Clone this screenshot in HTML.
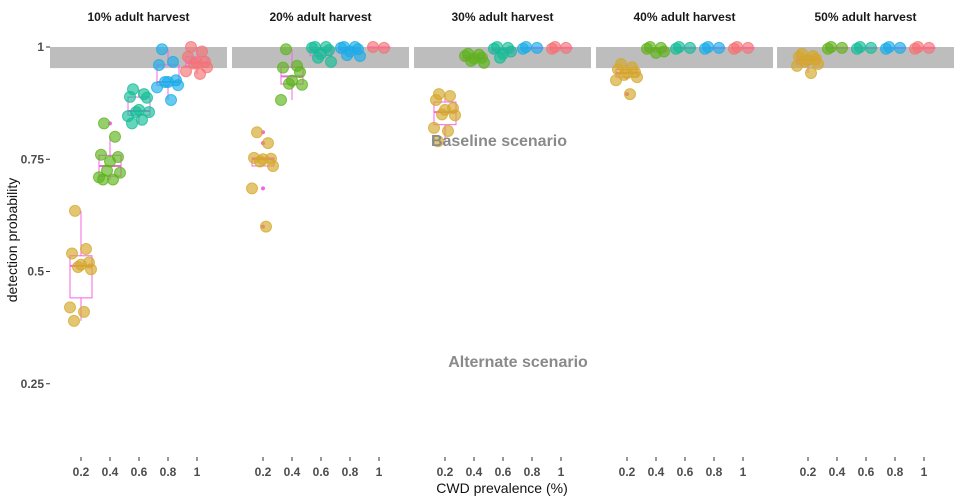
<!DOCTYPE html>
<html><head><meta charset="utf-8">
<style>
html,body{margin:0;padding:0;background:#fff;}
svg{display:block;font-family:"Liberation Sans",sans-serif;}
</style></head>
<body>
<svg id="chart" width="960" height="500"></svg>
<script>
const panels = ["10% adult harvest","20% adult harvest","30% adult harvest","40% adult harvest","50% adult harvest"];
const prevalences = [0.2,0.4,0.6,0.8,1];
const xTickLabels = ["0.2","0.4","0.6","0.8","1"];
const yTicks = [0.25,0.5,0.75,1];
const yTickLabels = ["0.25","0.5","0.75","1"];
const p1 = [
 [0.635,0.55,0.54,0.52,0.515,0.51,0.505,0.42,0.41,0.39],
 [0.83,0.80,0.76,0.755,0.745,0.725,0.72,0.71,0.705,0.705],
 [0.906,0.895,0.889,0.887,0.86,0.855,0.855,0.846,0.838,0.83],
 [0.995,0.967,0.96,0.926,0.922,0.922,0.915,0.91,0.882],
 [1.0,0.99,0.978,0.967,0.965,0.963,0.955,0.946,0.94]
];
const p2 = [
 [0.81,0.786,0.753,0.751,0.75,0.745,0.735,0.685,0.6],
 [0.995,0.958,0.954,0.944,0.925,0.918,0.916,0.882],
 [1,1,0.998,0.993,0.985,0.976,0.967],
 [1,1,0.998,0.995,0.99,0.982,0.98],
 [1,0.998]
];
const p3 = [
 [0.895,0.891,0.882,0.864,0.86,0.85,0.848,0.82,0.813,0.79],
 [0.985,0.983,0.98,0.976,0.974,0.969,0.965],
 [1,0.998,0.996,0.99,0.985,0.976],
 [1,0.998,0.996],
 [1,0.998,0.996]
];
const p4 = [
 [0.962,0.955,0.95,0.944,0.942,0.938,0.933,0.926,0.895],
 [1,0.998,0.996,0.99,0.987],
 [1,0.998,0.996],
 [1,0.998,0.996],
 [1,0.998,0.996]
];
const p5 = [
 [0.985,0.98,0.978,0.973,0.971,0.967,0.962,0.958,0.942],
 [1,0.998,0.996],
 [1,0.998,0.996],
 [1,0.998,0.996],
 [1,0.998,0.996]
];
const panelData = [p1,p2,p3,p4,p5];
const colors = ["#D4A82A","#5DB41C","#12BE96","#17AEE8","#F47373"];

const NS="http://www.w3.org/2000/svg";
const svg=document.getElementById('chart');
function el(t,a,parent){const e=document.createElementNS(NS,t);for(const k in a)e.setAttribute(k,a[k]);(parent||svg).appendChild(e);return e;}
const panelLefts=[50,232,414,596,777];
const panelW=177;
function y(v){return 47+(1-v)*449;}
function x(pi,p){return panelLefts[pi]+31+(p-0.2)*145;}
const jit=[-6,5,-9,8,0,-3,10,-11,3,-7,6];

yTicks.forEach((t,i)=>{
  const tk=el('line',{x1:46,x2:50,y1:y(t),y2:y(t),stroke:'#333','stroke-width':1});
  
  
  const lb=el('text',{x:44,y:y(t)+4,'text-anchor':'end','font-size':12,'font-weight':'bold',fill:'#4d4d4d'});
  lb.textContent=yTickLabels[i];
  
  
});
const yt=el('text',{x:0,y:0,transform:'translate(17,240) rotate(-90)','text-anchor':'middle','font-size':14,fill:'#111'});
yt.textContent='detection probability';


const xt=el('text',{x:502,y:493,'text-anchor':'middle','font-size':14,fill:'#111'});
xt.textContent='CWD prevalence (%)';



function q(arr,p){const s=[...arr].sort((a,b)=>a-b);const h=(s.length-1)*p;const lo=Math.floor(h),hi=Math.ceil(h);return s[lo]+(s[hi]-s[lo])*(h-lo);}

panels.forEach((name,pi)=>{
  const g=el('g',{});
  
  
  const st=el('text',{x:panelLefts[pi]+panelW/2,y:21,'text-anchor':'middle','font-size':12,'font-weight':'bold',fill:'#1a1a1a'},g);
  st.textContent=name;
  
  
  const band=el('rect',{x:panelLefts[pi],y:y(1),width:panelW,height:y(0.953)-y(1),fill:'#bdbdbd'},g);
  
  
  prevalences.forEach((p,k)=>{
    const cx=x(pi,p);
    const tk=el('line',{x1:cx,x2:cx,y1:457,y2:461,stroke:'#333'},g);
    
    
    const lb=el('text',{x:cx,y:476,'text-anchor':'middle','font-size':12,'font-weight':'bold',fill:'#4d4d4d'},g);
    lb.textContent=xTickLabels[k];
    
    
  });
  panelData[pi].forEach((vals,k)=>{
    const cx=x(pi,prevalences[k]);
    const q1=q(vals,0.25),q3=q(vals,0.75),md=q(vals,0.5),iqr=q3-q1;
    const inl=vals.filter(v=>v>=q1-1.5*iqr&&v<=q3+1.5*iqr);
    const lo=Math.min(...inl),hi=Math.max(...inl);
    const bx=el('g',{},g);
    
    
    el('line',{x1:cx,x2:cx,y1:y(hi),y2:y(q3),stroke:'#F564E3'},bx);
    el('line',{x1:cx,x2:cx,y1:y(q1),y2:y(lo),stroke:'#F564E3'},bx);
    el('rect',{x:cx-11,y:y(q3),width:22,height:Math.max(0.5,y(q1)-y(q3)),fill:'none',stroke:'#F564E3'},bx);
    el('line',{x1:cx-11,x2:cx+11,y1:y(md),y2:y(md),stroke:'#F564E3','stroke-width':2},bx);
    vals.forEach(v=>{if(v<lo||v>hi){const o=el('circle',{cx:cx,cy:y(v),r:2,fill:'#F564E3'},bx);
      
      }});
    vals.forEach((v,i)=>{
      const c=el('circle',{cx:cx+jit[i%jit.length],cy:y(v),r:5.5,fill:colors[k],'fill-opacity':0.65,stroke:colors[k],'stroke-opacity':0.75},g);
      
      
    });
  });
});
const a1=el('text',{x:499,y:146,'text-anchor':'middle','font-size':16,'font-weight':'bold',fill:'#8a8a8a'});
a1.textContent='Baseline scenario';


const a2=el('text',{x:518,y:367,'text-anchor':'middle','font-size':16,'font-weight':'bold',fill:'#8a8a8a'});
a2.textContent='Alternate scenario';


</script>
</body></html>
